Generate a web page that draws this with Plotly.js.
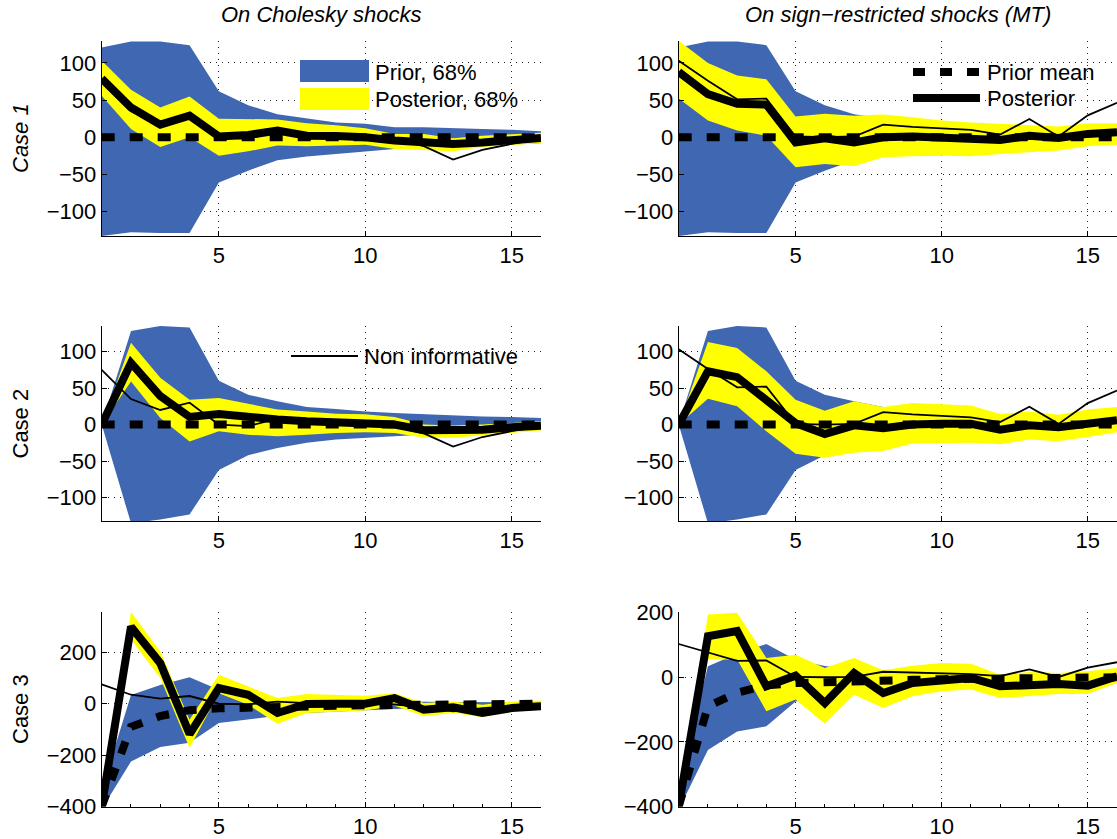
<!DOCTYPE html>
<html><head><meta charset="utf-8">
<script src="https://cdn.plot.ly/plotly-3.0.1.min.js"></script>
<style>html,body{margin:0;padding:0;background:#fff}#chart{width:1117px;height:839px}</style>
</head><body><div id="chart"></div>
<script>
// ---------------- DATA ----------------
const horizon = [1,2,3,4,5,6,7,8,9,10,11,12,13,14,15,16];
const columnTitles = ['On Cholesky shocks', 'On sign\u2212restricted shocks (MT)'];
const rowLabels = ['Case 1', 'Case 2', 'Case 3'];
const legendLabels = ['Prior, 68%', 'Posterior, 68%', 'Non informative', 'Prior mean', 'Posterior'];

// prior 68% bands (same prior in both columns)
const prior1Lo = [-133,-128,-129,-129,-61,-45,-31,-26,-22,-19,-16,-15,-13,-11,-10,-8];
const prior1Hi = [121,129,129,124,62,43,31,25,20,18,13.5,13.5,12,11,10,8];
const prior2Lo = [0,-135,-130,-123,-62,-42,-32,-25,-20.5,-18,-16,-14,-11.5,-10,-8,-7];
const prior2Hi = [0,128,135,133,60,41,32,24,21.5,18,16,14,13,11,10.5,9];
const prior3Lo = [-410,-225,-168,-152,-75,-60,-47,-36,-30,-26,-21,-17,-14,-13,-10,-8];
const prior3Hi = [-335,34,73,103,54,35,22,15,12,10,9,8,7,6,5,5];

// prior means
const priorMean12 = [0,0,0,0,0,0,0,0,0,0,0,0,0,0,0,0];
const priorMean3 = [-400,-90,-48,-25,-18,-14,-10,-10,-8,-6,-6,-4,-2,-2,-1,0];

// non informative responses
const nonInfChol = [75,35,20,30,0,-2,8,2,0,0,-3,-12,-30,-17,-9,-2];
const nonInfSign = [103,76,51,52,1,0,1,17,14,12.5,10,3.5,24.5,1,29.5,46.5];

// posterior, Cholesky shocks
const cholPost1Lo = [56,11,-13,0,-25,-19,-11,-12,-11,-10,-16,-18,-19,-13,-10,-8];
const cholPost1Hi = [103,64,40,55,25,24,24,19,16,12,4.5,4.5,-1.5,2,4.5,6];
const cholPost1Med = [79,40,17,29,1,3,9,2,1.5,0,-4.5,-7,-9,-7,-3.5,-1];
const cholPost2Lo = [0,59,9,-23,-9,-14,-16,-14,-11.4,-10.5,-11.4,-18,-18,-14,-11.4,-8];
const cholPost2Hi = [0,112,64,34,36.5,29,20.5,18,15,14,10.5,0,-1.4,0,2,4.5];
const cholPost2Med = [0,84.5,39,10.5,14.6,10,7,4.5,3,2,0,-7.8,-8,-7,-3.6,-1.4];
const cholPost3Lo = [-415,250,100,-172,41,-4,-78,-36,-30,-26,-8,-49,-36,-52,-30,-23];
const cholPost3Hi = [-385,357,203,-62,113,67,22,38,35,31,41,3,9,-4,9,13];
const cholPost3Med = [-400,300,158,-118,61,35,-36,-1,0,0,22,-23,-14,-36,-17,-10];

// posterior, sign-restricted shocks
const signPost1Lo = [52,22.5,9,2,-40.5,-36,-39,-27,-25.7,-24.8,-25.7,-22.5,-20,-18,-12,-10];
const signPost1Hi = [130,100,83,78,28,31.5,29,30.6,27,22.5,20,18,16.7,14.4,19,19];
const signPost1Med = [88,58,45,44,-7,-1.4,-7,0,1,0,-1,-3.6,2,-1,4.5,6.8];
const signPost2Lo = [0,35.5,25,-9,-40,-45.5,-38.6,-36,-26,-25,-25,-27,-20.5,-22.7,-17,-10.5];
const signPost2Hi = [0,113,105,73,34,19,32,24,29.5,28,26,14.5,18,13.6,20.5,24];
const signPost2Med = [0,73,65,32,2,-13,-1,-5,0,1,1,-7,-1,-3.6,0,6];
const signPost3Lo = [-415,55,55,-105,-69,-144,-54,-95,-59,-43,-38,-64,-57,-52,-52,-18];
const signPost3Hi = [-385,194,200,60,70,29,60,22,36,44,42,8,16.5,13,18.6,29];
const signPost3Med = [-400,127,143,-28,5,-80,13,-49,-18,-7,-2,-28,-25,-21,-26,3];

// ---------------- STYLE / LAYOUT ----------------
const W = 1117, Hh = 839;
const BLUE = '#4067B1', YEL = '#FFFF00';
const FONT = 'Liberation Sans, Arial, Helvetica, sans-serif';
const FS = 22;
const fx = p => p / W, fy = p => 1 - p / Hh;

const colDom = [[fx(101.7), fx(541)], [fx(678.7), 1]];
const rowDom = [[fy(236), fy(40.7)], [fy(521), fy(326)], [fy(806.5), fy(612)]];
const yRanges = [[[-133,130],[-133,130]], [[-132,135],[-132,135]], [[-400,357],[-400,202]]];
const yTicks = [[-100,-50,0,50,100],[-100,-50,0,50,100],[-400,-200,0,200]];

const panels = [
  [prior1Lo, prior1Hi, cholPost1Lo, cholPost1Hi, priorMean12, nonInfChol, cholPost1Med],
  [prior1Lo, prior1Hi, signPost1Lo, signPost1Hi, priorMean12, nonInfSign, signPost1Med],
  [prior2Lo, prior2Hi, cholPost2Lo, cholPost2Hi, priorMean12, nonInfChol, cholPost2Med],
  [prior2Lo, prior2Hi, signPost2Lo, signPost2Hi, priorMean12, nonInfSign, signPost2Med],
  [prior3Lo, prior3Hi, cholPost3Lo, cholPost3Hi, priorMean3, nonInfChol, cholPost3Med],
  [prior3Lo, prior3Hi, signPost3Lo, signPost3Hi, priorMean3, nonInfSign, signPost3Med]
];

const traces = [];
const layout = {
  width: W, height: Hh, margin: {l:0, r:0, t:0, b:0},
  paper_bgcolor: '#fff', plot_bgcolor: '#fff', showlegend: false,
  font: {family: FONT, size: FS, color: '#000'},
  annotations: [], shapes: []
};

const rev = a => a.slice().reverse();
panels.forEach((p, i) => {
  const k = i + 1, r = Math.floor(i / 2), c = i % 2;
  const xa = k === 1 ? 'x' : 'x' + k, ya = k === 1 ? 'y' : 'y' + k;
  const [pLo, pHi, qLo, qHi, pm, ni, med] = p;
  const base = {type: 'scatter', xaxis: xa, yaxis: ya, hoverinfo: 'skip', showlegend: false};
  traces.push(Object.assign({}, base, {mode: 'lines', x: horizon.concat(rev(horizon)), y: pHi.concat(rev(pLo)),
    fill: 'toself', fillcolor: BLUE, line: {width: 0, color: BLUE}}));
  traces.push(Object.assign({}, base, {mode: 'lines', x: horizon.concat(rev(horizon)), y: qHi.concat(rev(qLo)),
    fill: 'toself', fillcolor: YEL, line: {width: 0, color: YEL}}));
  traces.push(Object.assign({}, base, {mode: 'lines', x: horizon, y: pm, line: {color: '#000', width: 8, dash: '13px,15px'}}));
  traces.push(Object.assign({}, base, {mode: 'lines', x: horizon, y: ni, line: {color: '#000', width: 1.8}}));
  traces.push(Object.assign({}, base, {mode: 'lines', x: horizon, y: med, line: {color: '#000', width: 8}}));

  const axCommon = {
    ticks: 'inside', ticklen: 5, tickcolor: '#000', tickwidth: 1,
    showline: true, linecolor: '#000', linewidth: 1, mirror: false,
    showgrid: true, gridcolor: '#222', griddash: '1px,5px', gridwidth: 1,
    zeroline: false, tickfont: {family: FONT, size: FS, color: '#000'}, fixedrange: true
  };
  layout[k === 1 ? 'xaxis' : 'xaxis' + k] = Object.assign({}, axCommon, {
    domain: colDom[c], range: [1, 16], tickmode: 'linear', tick0: 0, dtick: 5, anchor: ya,
    minor: r === 2 ? {tickmode: 'linear', tick0: 0, dtick: 1, ticks: 'inside', ticklen: 3, tickcolor: '#000', showgrid: false} : undefined
  });
  layout[k === 1 ? 'yaxis' : 'yaxis' + k] = Object.assign({}, axCommon, {
    domain: rowDom[r], range: yRanges[r][c], tickmode: 'array', tickvals: yTicks[r],
    ticktext: yTicks[r].map(v => v < 0 ? '\u2212' + Math.abs(v) : String(v)), anchor: xa
  });
});

// column titles
columnTitles.forEach((t, c) => {
  layout.annotations.push({xref: 'paper', yref: 'paper', x: (colDom[c][0] + colDom[c][1]) / 2, y: fy(15),
    xanchor: 'center', yanchor: 'middle', showarrow: false, text: '<i>' + t + '</i>', font: {family: FONT, size: FS}});
});
// row labels
const rowCenters = [138, 423.5, 709];
rowLabels.forEach((t, r) => {
  layout.annotations.push({xref: 'paper', yref: 'paper', x: fx(20), y: fy(rowCenters[r]), xanchor: 'center', yanchor: 'middle',
    textangle: -90, showarrow: false, text: r === 0 ? '<i>' + t + '</i>' : t, font: {family: FONT, size: FS}});
});

// legends (drawn manually, MATLAB style, no box)
function rect(x0, y0, x1, y1, col) {
  layout.shapes.push({type: 'rect', xref: 'paper', yref: 'paper', x0: fx(x0), x1: fx(x1), y0: fy(y1), y1: fy(y0),
    fillcolor: col, line: {width: 0}});
}
function seg(x0, x1, y, w, dash) {
  layout.shapes.push({type: 'line', xref: 'paper', yref: 'paper', x0: fx(x0), x1: fx(x1), y0: fy(y), y1: fy(y),
    line: {color: '#000', width: w, dash: dash || 'solid'}});
}
function label(x, y, t) {
  layout.annotations.push({xref: 'paper', yref: 'paper', x: fx(x), y: fy(y), xanchor: 'left', yanchor: 'middle',
    showarrow: false, text: t, font: {family: FONT, size: FS}});
}
rect(300, 60, 369, 82, BLUE); label(373, 72, legendLabels[0]);
rect(300, 88, 369, 110, YEL); label(373, 99, legendLabels[1]);
seg(291, 358, 356, 1.8); label(362, 356, legendLabels[2]);
seg(913, 980, 72, 8, '12px,15px'); label(985, 72, legendLabels[3]);
seg(913, 980, 98, 8); label(985, 98, legendLabels[4]);

Plotly.newPlot('chart', traces, layout, {staticPlot: true, displayModeBar: false});
</script></body></html>
